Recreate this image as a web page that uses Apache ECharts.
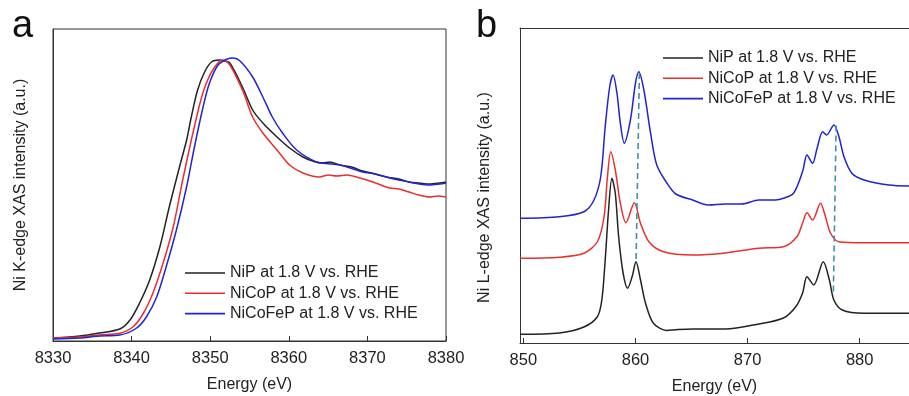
<!DOCTYPE html>
<html>
<head>
<meta charset="utf-8">
<script src="https://cdn.jsdelivr.net/npm/echarts@6/dist/echarts.min.js"></script>
<style>
html,body{margin:0;padding:0;background:#fff;}
#chart{width:909px;height:396px;}
</style>
</head>
<body>
<div id="chart"></div>
<script>
// ---------- Panel a: Ni K-edge XAS (energy eV, normalized intensity a.u.) ----------
const kEdgeTicks = [8330, 8340, 8350, 8360, 8370, 8380];
const kNiP = [[8330.0,0.012],[8333.4,0.02],[8335.9,0.032],[8338.5,0.048],[8339.8,0.084],[8341.0,0.151],[8342.3,0.244],[8343.6,0.377],[8344.8,0.537],[8346.1,0.697],[8347.0,0.804],[8347.6,0.897],[8348.4,1.004],[8349.3,1.077],[8350.2,1.117],[8351.2,1.124],[8351.8,1.12],[8352.5,1.112],[8354.1,1.016],[8355.4,0.924],[8356.7,0.872],[8358.5,0.816],[8360.1,0.772],[8361.8,0.736],[8363.2,0.718],[8364.3,0.712],[8365.2,0.716],[8366.5,0.704],[8368.0,0.696],[8369.4,0.68],[8371.0,0.668],[8372.4,0.656],[8374.0,0.648],[8375.3,0.636],[8376.6,0.632],[8377.9,0.628],[8379.2,0.632],[8380.0,0.636]];
const kNiCoP = [[8330.0,0.012],[8333.4,0.016],[8335.9,0.024],[8338.5,0.031],[8340.2,0.057],[8341.5,0.111],[8342.7,0.191],[8344.0,0.311],[8345.3,0.457],[8346.5,0.644],[8347.6,0.804],[8348.7,0.951],[8349.5,1.031],[8350.6,1.097],[8351.6,1.124],[8352.5,1.104],[8354.1,1.004],[8355.4,0.896],[8356.7,0.832],[8358.5,0.764],[8360.1,0.704],[8361.8,0.672],[8363.9,0.656],[8365.0,0.664],[8366.1,0.66],[8367.4,0.664],[8368.6,0.656],[8370.7,0.636],[8372.8,0.612],[8374.0,0.608],[8375.3,0.596],[8376.5,0.584],[8377.9,0.576],[8379.0,0.58],[8380.0,0.576]];
const kNiCoFeP = [[8330.0,0.008],[8333.4,0.012],[8335.9,0.02],[8338.5,0.024],[8340.6,0.051],[8341.9,0.097],[8343.2,0.177],[8344.4,0.297],[8345.7,0.444],[8347.0,0.617],[8348.0,0.777],[8349.1,0.937],[8349.9,1.031],[8351.0,1.104],[8352.1,1.127],[8352.9,1.132],[8353.8,1.12],[8355.4,1.056],[8356.7,0.976],[8357.9,0.896],[8359.2,0.832],[8361.0,0.764],[8363.5,0.716],[8364.8,0.71],[8366.5,0.704],[8368.0,0.69],[8369.4,0.676],[8371.0,0.668],[8372.4,0.656],[8374.0,0.644],[8375.3,0.636],[8376.6,0.628],[8377.9,0.624],[8379.2,0.628],[8380.0,0.632]];

// ---------- Panel b: Ni L-edge XAS (energy eV, intensity a.u., curves offset) ----------
const lEdgeTicks = [850, 860, 870, 880];
const lNiP = [[849.7,0.035],[853.2,0.04],[855.4,0.064],[856.6,0.105],[857.0,0.172],[857.3,0.332],[857.6,0.532],[857.9,0.659],[858.2,0.599],[858.5,0.425],[858.9,0.279],[859.3,0.219],[859.7,0.265],[860.05,0.325],[860.45,0.252],[860.9,0.159],[861.6,0.079],[862.8,0.05],[863.6,0.053],[865.1,0.056],[868.0,0.056],[871.0,0.076],[873.2,0.1],[874.3,0.145],[874.9,0.199],[875.3,0.265],[875.9,0.232],[876.75,0.325],[877.3,0.252],[877.7,0.172],[878.45,0.132],[880.4,0.119],[884.4,0.119]];
const lNiCoP = [[849.7,0.339],[853.2,0.343],[855.4,0.359],[856.6,0.405],[857.2,0.505],[857.5,0.665],[857.8,0.765],[858.2,0.692],[858.65,0.559],[859.15,0.481],[859.9,0.561],[860.45,0.479],[861.2,0.405],[862.5,0.365],[865.1,0.352],[868.0,0.36],[871.0,0.379],[873.2,0.385],[874.4,0.425],[874.9,0.479],[875.3,0.521],[875.8,0.492],[876.5,0.559],[876.95,0.505],[877.4,0.439],[878.15,0.405],[880.4,0.401],[884.4,0.401]];
const lNiCoFeP = [[849.7,0.499],[853.2,0.505],[855.4,0.525],[856.3,0.572],[856.9,0.665],[857.3,0.865],[857.7,1.025],[858.0,1.072],[858.35,0.999],[858.65,0.879],[859.0,0.799],[859.55,0.892],[860.0,1.039],[860.3,1.085],[860.75,1.012],[861.35,0.839],[861.9,0.712],[862.8,0.64],[863.6,0.596],[865.1,0.572],[866.5,0.552],[868.0,0.556],[869.5,0.556],[871.0,0.572],[872.5,0.572],[873.2,0.579],[874.1,0.599],[874.9,0.685],[875.3,0.752],[875.8,0.719],[876.2,0.779],[876.7,0.845],[877.05,0.832],[877.7,0.872],[878.15,0.825],[878.6,0.745],[879.3,0.679],[880.4,0.652],[882.6,0.632],[884.4,0.628]];
// guide lines linking corresponding peaks
const guide1 = [[860.35,1.08],[860.05,0.32]];
const guide2 = [[877.9,0.87],[877.65,0.19]];

const names = ['NiP at 1.8 V vs. RHE', 'NiCoP at 1.8 V vs. RHE', 'NiCoFeP at 1.8 V vs. RHE'];
const colors = ['#222222', '#e8302e', '#2323d2'];

const chart = echarts.init(document.getElementById('chart'), null, {renderer: 'canvas'});
const font = 'Liberation Sans, Arial, sans-serif';
const txt = '#222';

function curve(name, data, color, idx) {
  return {name, type: 'line', data, xAxisIndex: idx, yAxisIndex: idx, showSymbol: false,
    symbol: 'none', smooth: 0.3, lineStyle: {color, width: 1.5}, itemStyle: {color}, silent: true, z: 3};
}
function guide(data) {
  return {type: 'line', data, xAxisIndex: 1, yAxisIndex: 1, showSymbol: false, symbol: 'none',
    lineStyle: {color: '#3f8fa8', width: 1.6, type: [6, 4]}, silent: true, z: 4};
}
const xCommon = {
  type: 'value', nameLocation: 'middle', nameGap: 36,
  nameTextStyle: {fontFamily: font, fontSize: 16, color: txt},
  axisLine: {show: true, lineStyle: {color: '#333', width: 1}},
  axisTick: {show: true, inside: true, length: 5, lineStyle: {color: '#333'}},
  axisLabel: {fontFamily: font, fontSize: 16.5, color: txt, margin: 9, formatter: v => String(v)},
  splitLine: {show: false}
};
const yCommon = {
  type: 'value', min: 0, max: 1.26, nameLocation: 'middle',
  nameTextStyle: {fontFamily: font, fontSize: 16, color: txt},
  axisLine: {show: true, lineStyle: {color: '#333', width: 1}},
  axisTick: {show: false}, axisLabel: {show: false}, splitLine: {show: false}
};
const legendCommon = {
  orient: 'vertical', icon: 'rect', itemWidth: 40, itemHeight: 1.6, itemGap: 0.3, padding: 0,
  textStyle: {fontFamily: font, fontSize: 16, color: txt, lineHeight: 20},
  data: names, selectedMode: false
};

chart.setOption({
  animation: false,
  backgroundColor: '#fff',
  color: colors,
  grid: [
    {left: 53, top: 29, right: 463, bottom: 55, show: true, borderColor: '#333', borderWidth: 1, outerBoundsMode: 'none', containLabel: false},
    {left: 520, top: 28, right: 0, bottom: 53, show: false, outerBoundsMode: 'none', containLabel: false}
  ],
  xAxis: [
    Object.assign({}, xCommon, {gridIndex: 0, min: kEdgeTicks[0], max: kEdgeTicks[kEdgeTicks.length-1], interval: 10, name: 'Energy (eV)'}),
    Object.assign({}, xCommon, {gridIndex: 1, min: 849.7, max: 884.4, name: 'Energy (eV)',
      axisTick: Object.assign({}, xCommon.axisTick, {customValues: lEdgeTicks}),
      axisLabel: Object.assign({}, xCommon.axisLabel, {customValues: lEdgeTicks})}),
    {type: 'value', gridIndex: 1, position: 'top', min: 849.7, max: 884.4,
      axisLine: {show: true, lineStyle: {color: '#333', width: 1}},
      axisTick: {show: false}, axisLabel: {show: false}, splitLine: {show: false}}
  ],
  yAxis: [
    Object.assign({}, yCommon, {gridIndex: 0, max: 1.248, name: 'Ni K-edge XAS intensity (a.u.)', nameGap: 24}),
    Object.assign({}, yCommon, {gridIndex: 1, name: 'Ni L-edge XAS intensity (a.u.)', nameGap: 27,
      nameTextStyle: Object.assign({}, yCommon.nameTextStyle, {padding: [0, 24, 0, 0]})})
  ],
  legend: [
    Object.assign({}, legendCommon, {left: 185, top: 263}),
    Object.assign({}, legendCommon, {left: 663, top: 48})
  ],
  graphic: [
    {type: 'text', x: 12, y: 27, style: {text: 'a', font: '38px Liberation Sans, Arial, sans-serif', fill: '#111', verticalAlign: 'middle'}},
    {type: 'text', x: 476, y: 27, style: {text: 'b', font: '38px Liberation Sans, Arial, sans-serif', fill: '#111', verticalAlign: 'middle'}}
  ],
  series: [
    curve(names[0], kNiP, colors[0], 0),
    curve(names[1], kNiCoP, colors[1], 0),
    curve(names[2], kNiCoFeP, colors[2], 0),
    curve(names[0], lNiP, colors[0], 1),
    curve(names[1], lNiCoP, colors[1], 1),
    curve(names[2], lNiCoFeP, colors[2], 1),
    guide(guide1),
    guide(guide2)
  ]
});
</script>
</body>
</html>
